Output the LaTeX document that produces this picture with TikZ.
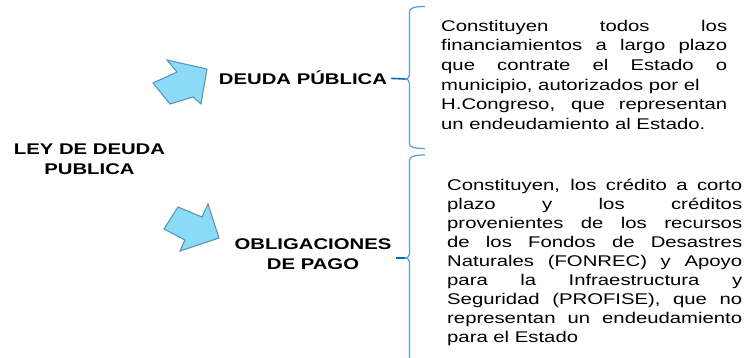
\documentclass[tikz,border=0pt]{standalone}
\usepackage{fontspec}
\setmainfont[FakeStretch=1.31]{Liberation Sans}
\definecolor{arrowfill}{RGB}{138,219,246}
\definecolor{arrowline}{RGB}{86,142,182}
\definecolor{bracecol}{RGB}{86,155,215}
\definecolor{stubcol}{RGB}{0,108,190}
\newcommand{\loosepar}{\tolerance=10000\relax}
\tikzstyle{title} = [font=\fontsize{15.5}{19.5}\selectfont\bfseries, align=center, inner sep=0pt]
\tikzstyle{body} = [align=justify, inner sep=0pt, anchor=north west]
\tikzstyle{bigarrow} = [fill=arrowfill, draw=arrowline, line width=1pt, line join=miter]
\tikzstyle{brace} = [draw=bracecol, line width=1.2pt]
\tikzstyle{stub} = [draw=stubcol, line width=1.6pt, shorten <=4pt]

\begin{document}
\begin{tikzpicture}[x=1pt, y=-1pt]

    \useasboundingbox (0,0) rectangle (747,358);

    \node (ley) [title] at (89.5,159) {LEY DE DEUDA\\PUBLICA};
    \node (deuda) [title, anchor=base] at (303,85) {DEUDA PÚBLICA};
    \node (oblig) [title] at (313,254) {OBLIGACIONES\\DE PAGO};

    \node (deudaTxt) [body, text width=286pt, font=\fontsize{15.5}{19.6}\selectfont\loosepar] at (441,19.8) {Constituyen todos los\linebreak financiamientos a largo plazo\linebreak que contrate el Estado o\linebreak municipio, autorizados por el\\ H.Congreso, que representan\linebreak un endeudamiento al Estado.};
    \node (obligTxt) [body, text width=295pt, font=\fontsize{15.5}{19}\selectfont\loosepar] at (447,178.7) {Constituyen, los crédito a corto\linebreak plazo y los créditos\linebreak provenientes de los recursos\linebreak de los Fondos de Desastres\linebreak Naturales (FONREC) y Apoyo\linebreak para la Infraestructura y\linebreak Seguridad (PROFISE), que no\linebreak representan un endeudamiento\linebreak para el Estado};

    \draw [bigarrow] (167,60) -- (207,69) -- (201,104) -- (193,97) -- (170,104) -- (153,83) -- (177,72) -- cycle;
    \draw [bigarrow] (178,207) -- (202,217) -- (208,204) -- (219,238) -- (180,251) -- (185,240) -- (164,229) -- cycle;

    \coordinate (deudaTip) at (405,79);
    \coordinate (obligTip) at (405,258);

    \draw [brace] (425,6.5) .. controls (414,6.5) and (409.5,8) .. (409.5,12) -- (409.5,75) .. controls (409.5,78) and (407,79) .. (deudaTip) .. controls (407,79) and (409.5,80) .. (409.5,83) -- (409.5,144) .. controls (409.5,147) and (414,148.5) .. (425,148.5);
    \draw [brace] (425,155) .. controls (414,155) and (409.5,156.5) .. (409.5,160.5) -- (409.5,254) .. controls (409.5,257) and (407,258) .. (obligTip) .. controls (407,258) and (409.5,259) .. (409.5,262) -- (409.5,360);

    \draw [stub] (deuda.east) -- (deudaTip);
    \draw [stub] (oblig.east |- obligTip) -- (obligTip);

\end{tikzpicture}
\end{document}
